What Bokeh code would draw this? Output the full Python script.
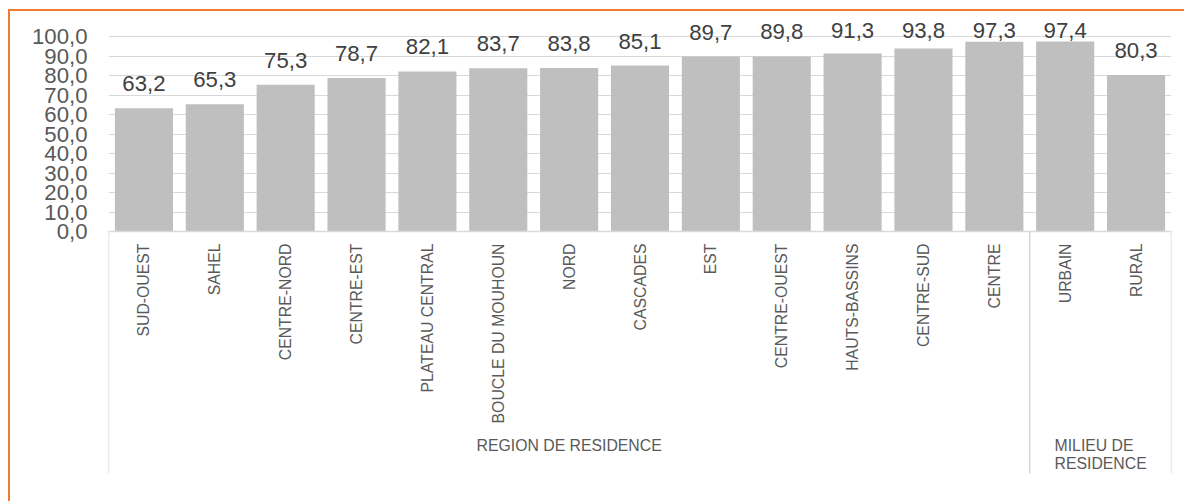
import numpy as np
from bokeh.plotting import figure
from bokeh.models import ColumnDataSource, FactorRange, Range1d, FixedTicker, LabelSet
from bokeh.core.properties import value
from bokeh.embed import file_html
from bokeh.resources import INLINE

# ---------------- data ----------------
regions = ["SUD-OUEST", "SAHEL", "CENTRE-NORD", "CENTRE-EST", "PLATEAU CENTRAL",
           "BOUCLE DU MOUHOUN", "NORD", "CASCADES", "EST", "CENTRE-OUEST",
           "HAUTS-BASSINS", "CENTRE-SUD", "CENTRE"]
region_values = [63.2, 65.3, 75.3, 78.7, 82.1, 83.7, 83.8, 85.1, 89.7, 89.8, 91.3, 93.8, 97.3]
milieux = ["URBAIN", "RURAL"]
milieu_values = [97.4, 80.3]
group_names = ["REGION DE RESIDENCE", "MILIEU DE\nRESIDENCE"]
y_ticks = [0, 10, 20, 30, 40, 50, 60, 70, 80, 90, 100]

# ---------------- layout / style ----------------
W, H = 1176, 492
FONT = "Liberation Sans"
BAR = "#BFBFBF"
GRID = "#D9D9D9"
TXT = "#595959"
LBL = "#404040"
PX_PER_UNIT = 1.95          # vertical pixels per data unit
ZERO_Y = 220                # canvas y of value 0
TOP_Y = ZERO_Y - 100 * PX_PER_UNIT
MB_TOP, MB_BOTTOM = 2, 2
AXIS_DEPTH_PX = 242         # depth of the category axis box below 0
LABEL_GAP_PX = 17           # gap between bar top and label baseline
LABEL_MAX_BASE_Y = 26       # labels kept inside chart area (canvas y)

cats = regions + milieux
vals = region_values + milieu_values
fmt = lambda v: f"{v:.1f}".replace(".", ",")

y_end = 100 + (TOP_Y - MB_TOP) / PX_PER_UNIT
y_start = -((H - MB_BOTTOM) - ZERO_Y) / PX_PER_UNIT
clamp = (ZERO_Y - (LABEL_MAX_BASE_Y + LABEL_GAP_PX)) / PX_PER_UNIT

src = ColumnDataSource(dict(
    cat=cats,
    val=vals,
    label=[fmt(v) for v in vals],
    label_y=list(np.minimum(vals, clamp)),
))

p = figure(width=W, height=H, x_range=FactorRange(factors=cats, range_padding=0, factor_padding=0),
           y_range=Range1d(y_start, y_end), output_backend="svg", toolbar_location=None,
           x_axis_location=None, min_border_left=98, min_border_right=15,
           min_border_top=MB_TOP, min_border_bottom=MB_BOTTOM)
p.styles = {"border-top": "2px solid #ED7D31", "border-left": "2px solid #ED7D31",
            "margin-left": "8px", "margin-top": "9px"}
p.outline_line_color = None
p.background_fill_color = "white"
p.border_fill_color = "white"

# grid
p.xgrid.visible = False
p.ygrid.ticker = FixedTicker(ticks=y_ticks)
p.ygrid.grid_line_color = GRID
p.ygrid.grid_line_width = 1

# y axis
ax = p.yaxis[0]
ax.ticker = FixedTicker(ticks=y_ticks)
ax.major_label_overrides = {t: fmt(t) for t in y_ticks}
ax.major_label_text_font = FONT
ax.major_label_text_font_size = "22.2px"
ax.major_label_text_color = TXT
ax.major_tick_in = 0
ax.major_tick_out = 0
ax.minor_tick_line_color = None
ax.axis_line_color = None
ax.major_label_standoff = 21

# bars
p.vbar(x="cat", top="val", width=0.82, source=src, fill_color=BAR, line_color=None)

# data labels
p.add_layout(LabelSet(x="cat", y="label_y", text="label", source=src, y_offset=LABEL_GAP_PX,
                      text_align="center", text_baseline="alphabetic",
                      text_font=value(FONT), text_font_size="22.2px", text_color=LBL))

# category axis labels
p.add_layout(LabelSet(x="cat", y=0, text="cat", source=src, y_offset=-12, angle=np.pi / 2,
                      text_align="right", text_baseline="middle",
                      text_font=value(FONT), text_font_size="15.8px", text_color=TXT))

# group separators and labels
counts = [len(regions), len(milieux)]
bounds = np.concatenate([[0], np.cumsum(counts)]).astype(float)
sep_bottom = -AXIS_DEPTH_PX / PX_PER_UNIT
p.segment(x0=list(bounds), y0=[0] * len(bounds), x1=list(bounds), y1=[sep_bottom] * len(bounds),
          line_color=GRID, line_width=1.5)
p.segment(x0=[bounds[0]], y0=[0], x1=[bounds[-1]], y1=[0], line_color=GRID, line_width=1.5)

gsrc = ColumnDataSource(dict(x=list((bounds[:-1] + bounds[1:]) / 2), name=group_names))
p.add_layout(LabelSet(x="x", y=0, text="name", source=gsrc, y_offset=-205,
                      text_align="center", text_baseline="top", text_line_height=1.1,
                      text_font=value(FONT), text_font_size="15.8px", text_color=TXT))

open("out.html", "w").write(file_html(p, INLINE))
